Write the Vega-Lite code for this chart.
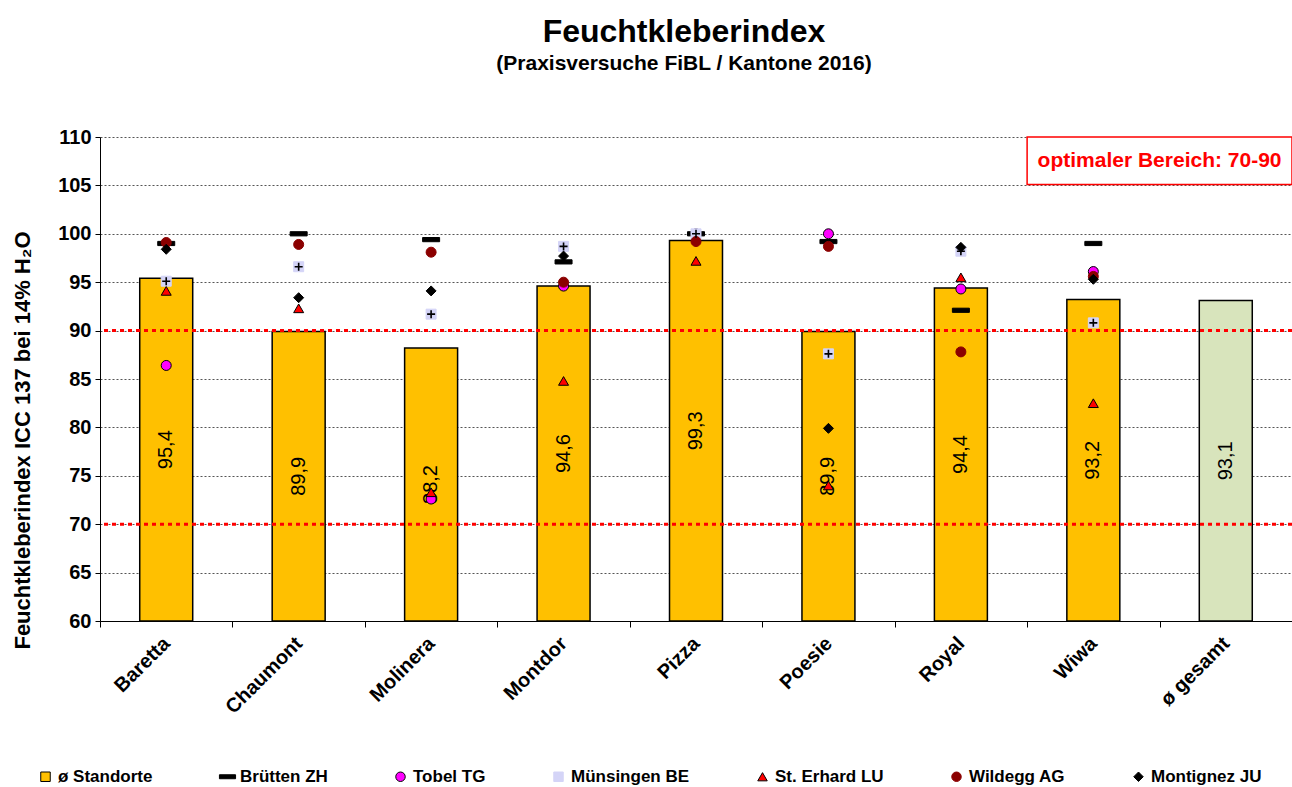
{
  "$schema": "https://vega.github.io/schema/vega-lite/v6.json",
  "width": 1192,
  "height": 484,
  "autosize": {"type": "none"},
  "padding": {"left": 100, "top": 137, "right": 0, "bottom": 166},
  "background": "white",
  "config": {
    "font": "Liberation Sans",
    "view": {"stroke": null}
  },
  "title": {
    "text": "Feuchtkleberindex",
    "subtitle": "(Praxisversuche FiBL / Kantone 2016)",
    "fontSize": 32,
    "fontWeight": "bold",
    "color": "black",
    "subtitleFontSize": 21,
    "subtitleFontWeight": "bold",
    "subtitleColor": "black",
    "subtitlePadding": 4,
    "anchor": "middle",
    "frame": "group",
    "dx": -12,
    "offset": 52
  },
  "datasets": {
    "bars": [
      {"sorte": "Baretta", "v": 95.4, "label": "95,4"},
      {"sorte": "Chaumont", "v": 89.9, "label": "89,9"},
      {"sorte": "Molinera", "v": 88.2, "label": "88,2"},
      {"sorte": "Montdor", "v": 94.6, "label": "94,6"},
      {"sorte": "Pizza", "v": 99.3, "label": "99,3"},
      {"sorte": "Poesie", "v": 89.9, "label": "89,9"},
      {"sorte": "Royal", "v": 94.4, "label": "94,4"},
      {"sorte": "Wiwa", "v": 93.2, "label": "93,2"},
      {"sorte": "ø gesamt", "v": 93.1, "label": "93,1"}
    ],
    "refs": [{"ref": 70}, {"ref": 90}],
    "points": [
      {"sorte": "Baretta", "series": "Brütten ZH", "v": 99.0},
      {"sorte": "Chaumont", "series": "Brütten ZH", "v": 100.0},
      {"sorte": "Molinera", "series": "Brütten ZH", "v": 99.4},
      {"sorte": "Montdor", "series": "Brütten ZH", "v": 97.1},
      {"sorte": "Pizza", "series": "Brütten ZH", "v": 100.0},
      {"sorte": "Poesie", "series": "Brütten ZH", "v": 99.2},
      {"sorte": "Royal", "series": "Brütten ZH", "v": 92.1},
      {"sorte": "Wiwa", "series": "Brütten ZH", "v": 99.0},
      {"sorte": "Baretta", "series": "Tobel TG", "v": 86.4},
      {"sorte": "Chaumont", "series": "Tobel TG", "v": 58.2},
      {"sorte": "Molinera", "series": "Tobel TG", "v": 72.6},
      {"sorte": "Montdor", "series": "Tobel TG", "v": 94.6},
      {"sorte": "Pizza", "series": "Tobel TG", "v": 100.0},
      {"sorte": "Poesie", "series": "Tobel TG", "v": 100.0},
      {"sorte": "Royal", "series": "Tobel TG", "v": 94.3},
      {"sorte": "Wiwa", "series": "Tobel TG", "v": 96.1},
      {"sorte": "Baretta", "series": "Münsingen BE", "v": 95.1},
      {"sorte": "Chaumont", "series": "Münsingen BE", "v": 96.6},
      {"sorte": "Molinera", "series": "Münsingen BE", "v": 91.7},
      {"sorte": "Montdor", "series": "Münsingen BE", "v": 98.7},
      {"sorte": "Pizza", "series": "Münsingen BE", "v": 100.0},
      {"sorte": "Poesie", "series": "Münsingen BE", "v": 87.6},
      {"sorte": "Royal", "series": "Münsingen BE", "v": 98.2},
      {"sorte": "Wiwa", "series": "Münsingen BE", "v": 90.8},
      {"sorte": "Baretta", "series": "St. Erhard LU", "v": 94.1},
      {"sorte": "Chaumont", "series": "St. Erhard LU", "v": 92.3},
      {"sorte": "Molinera", "series": "St. Erhard LU", "v": 73.3},
      {"sorte": "Montdor", "series": "St. Erhard LU", "v": 84.8},
      {"sorte": "Pizza", "series": "St. Erhard LU", "v": 97.2},
      {"sorte": "Poesie", "series": "St. Erhard LU", "v": 74.0},
      {"sorte": "Royal", "series": "St. Erhard LU", "v": 95.5},
      {"sorte": "Wiwa", "series": "St. Erhard LU", "v": 82.5},
      {"sorte": "Baretta", "series": "Wildegg AG", "v": 99.1},
      {"sorte": "Chaumont", "series": "Wildegg AG", "v": 98.9},
      {"sorte": "Molinera", "series": "Wildegg AG", "v": 98.1},
      {"sorte": "Montdor", "series": "Wildegg AG", "v": 95.0},
      {"sorte": "Pizza", "series": "Wildegg AG", "v": 99.2},
      {"sorte": "Poesie", "series": "Wildegg AG", "v": 98.7},
      {"sorte": "Royal", "series": "Wildegg AG", "v": 87.8},
      {"sorte": "Wiwa", "series": "Wildegg AG", "v": 95.6},
      {"sorte": "Baretta", "series": "Montignez JU", "v": 98.4},
      {"sorte": "Chaumont", "series": "Montignez JU", "v": 93.4},
      {"sorte": "Molinera", "series": "Montignez JU", "v": 94.1},
      {"sorte": "Montdor", "series": "Montignez JU", "v": 97.7},
      {"sorte": "Poesie", "series": "Montignez JU", "v": 79.9},
      {"sorte": "Royal", "series": "Montignez JU", "v": 98.6},
      {"sorte": "Wiwa", "series": "Montignez JU", "v": 95.3}
    ]
  },
  "resolve": {"scale": {"y": "independent"}},
  "layer": [
    {
      "data": {"name": "bars"},
      "mark": {"type": "bar", "stroke": "black", "strokeWidth": 1.5, "width": {"band": 0.4}},
      "encoding": {
        "x": {
          "field": "sorte",
          "type": "nominal",
          "sort": null,
          "scale": {
            "domain": ["Baretta", "Chaumont", "Molinera", "Montdor", "Pizza", "Poesie", "Royal", "Wiwa", "ø gesamt"],
            "paddingInner": 0,
            "paddingOuter": 0
          },
          "axis": {
            "title": null,
            "labelAngle": -45,
            "labelFontSize": 20,
            "labelFontWeight": "bold",
            "labelColor": "black",
            "labelOffset": -7,
            "domainColor": "black",
            "domainWidth": 1,
            "tickColor": "black",
            "tickSize": 6,
            "tickBand": "extent",
            "labelPadding": 6,
            "grid": false
          }
        },
        "y": {
          "field": "v",
          "type": "quantitative",
          "scale": {"domain": [60, 110], "nice": false, "zero": false},
          "axis": {
            "title": "Feuchtkleberindex ICC 137 bei 14% H₂O",
            "titleFontSize": 22,
            "titleFontWeight": "bold",
            "titleColor": "black",
            "titleX": -78,
            "titleY": 303,
            "titleAngle": 270,
            "titleAlign": "center",
            "titleBaseline": "middle",
            "values": [60, 65, 70, 75, 80, 85, 90, 95, 100, 105, 110],
            "labelFontSize": 20,
            "labelFontWeight": "bold",
            "labelColor": "black",
            "labelPadding": 4,
            "domainColor": "black",
            "tickColor": "black",
            "tickSize": 5,
            "grid": true,
            "gridColor": "#555555",
            "gridDash": [2, 2],
            "gridWidth": 1
          }
        },
        "y2": {"datum": 60},
        "fill": {
          "condition": {"test": "datum.sorte === 'ø gesamt'", "value": "#D8E4BC"},
          "value": "#FFC000"
        }
      }
    },
    {
      "data": {"name": "bars"},
      "mark": {"type": "text", "angle": 270, "fontSize": 20, "color": "black", "align": "center", "baseline": "middle"},
      "encoding": {
        "x": {"field": "sorte", "type": "nominal", "sort": null},
        "y": {
          "field": "v",
          "type": "quantitative",
          "scale": {"domain": [60, 160], "nice": false, "zero": false},
          "axis": null
        },
        "text": {"field": "label"}
      }
    },
    {
      "data": {"name": "refs"},
      "mark": {"type": "rule", "color": "#FF0000", "strokeWidth": 3, "strokeDash": [4, 4]},
      "encoding": {
        "y": {
          "field": "ref",
          "type": "quantitative",
          "scale": {"domain": [60, 110], "nice": false, "zero": false},
          "axis": null
        }
      }
    },
    {
      "data": {"values": [{}]},
      "mark": {"type": "rect", "fill": "white", "stroke": "#FF0000", "strokeWidth": 1.5},
      "encoding": {
        "x": {"datum": "Wiwa", "type": "nominal", "bandPosition": 0},
        "x2": {"datum": "ø gesamt", "bandPosition": 1},
        "y": {
          "datum": 110,
          "type": "quantitative",
          "scale": {"domain": [60, 110], "nice": false, "zero": false},
          "axis": null
        },
        "y2": {"datum": 105.1}
      }
    },
    {
      "data": {"values": [{}]},
      "mark": {"type": "text", "color": "#FF0000", "fontSize": 21, "fontWeight": "bold", "align": "center", "baseline": "middle", "text": "optimaler Bereich: 70-90"},
      "encoding": {
        "x": {"datum": "ø gesamt", "type": "nominal", "bandPosition": 0},
        "y": {
          "datum": 107.55,
          "type": "quantitative",
          "scale": {"domain": [60, 110], "nice": false, "zero": false},
          "axis": null
        }
      }
    },
    {
      "data": {"name": "points"},
      "mark": {"type": "point", "filled": true, "size": 100, "strokeWidth": 1, "opacity": 1, "clip": true},
      "encoding": {
        "x": {"field": "sorte", "type": "nominal", "sort": null},
        "y": {
          "field": "v",
          "type": "quantitative",
          "scale": {"domain": [60, 110], "nice": false, "zero": false},
          "axis": null
        },
        "shape": {
          "field": "series",
          "type": "nominal",
          "scale": {
            "domain": ["ø Standorte", "Brütten ZH", "Tobel TG", "Münsingen BE", "St. Erhard LU", "Wildegg AG", "Montignez JU"],
            "range": ["square", "M-1.7,-0.42H1.7V0.42H-1.7Z", "circle", "square", "triangle-up", "circle", "diamond"]
          },
          "legend": {"orient": "none", "legendX": -63, "legendY": 631, "direction": "horizontal", "columns": 7, "columnPadding": 64, "labelFontSize": 17, "labelFontWeight": "bold", "labelColor": "black", "symbolSize": 90, "symbolStrokeWidth": 1, "title": null}
        },
        "fill": {
          "field": "series",
          "type": "nominal",
          "scale": {
            "domain": ["ø Standorte", "Brütten ZH", "Tobel TG", "Münsingen BE", "St. Erhard LU", "Wildegg AG", "Montignez JU"],
            "range": ["#FFC000", "#000000", "#FF00FF", "#D4D4F7", "#FF0000", "#8B0000", "#000000"]
          },
          "legend": {"orient": "none", "legendX": -63, "legendY": 631, "direction": "horizontal", "columns": 7, "columnPadding": 64, "labelFontSize": 17, "labelFontWeight": "bold", "labelColor": "black", "symbolSize": 90, "symbolStrokeWidth": 1, "title": null}
        },
        "stroke": {
          "field": "series",
          "type": "nominal",
          "scale": {
            "domain": ["ø Standorte", "Brütten ZH", "Tobel TG", "Münsingen BE", "St. Erhard LU", "Wildegg AG", "Montignez JU"],
            "range": ["#000000", "#000000", "#000000", "#D4D4F7", "#000000", "#8B0000", "#000000"]
          },
          "legend": {"orient": "none", "legendX": -63, "legendY": 631, "direction": "horizontal", "columns": 7, "columnPadding": 64, "labelFontSize": 17, "labelFontWeight": "bold", "labelColor": "black", "symbolSize": 90, "symbolStrokeWidth": 1, "title": null}
        }
      }
    },
    {
      "data": {"name": "points"},
      "transform": [{"filter": "datum.series === 'Münsingen BE'"}],
      "mark": {"type": "point", "filled": false, "shape": "M-1,0H1M0,-1V1", "size": 64, "stroke": "black", "strokeWidth": 1.6, "opacity": 1},
      "encoding": {
        "x": {"field": "sorte", "type": "nominal", "sort": null},
        "y": {
          "field": "v",
          "type": "quantitative",
          "scale": {"domain": [60, 110], "nice": false, "zero": false},
          "axis": null
        }
      }
    }
  ]
}
